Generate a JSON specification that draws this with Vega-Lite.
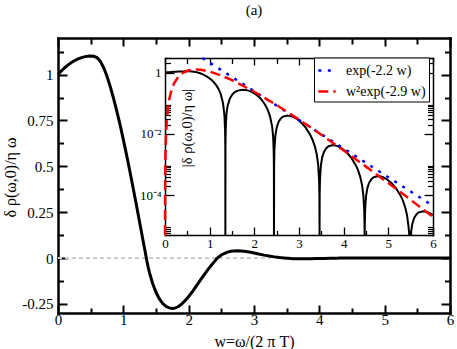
{
  "$schema": "https://vega.github.io/schema/vega-lite/v6.json",
  "width": 392,
  "height": 275,
  "autosize": {"type": "none"},
  "padding": {"left": 58, "top": 38, "right": 7, "bottom": 36},
  "title": {"text": "(a)", "fontSize": 15, "font": "Liberation Serif", "fontWeight": "normal", "color": "black", "offset": 19, "anchor": "middle", "frame": "group"},
  "config": {
    "view": {"stroke": null},
    "font": "Liberation Serif",
    "axis": {"domainColor": "black", "tickColor": "black", "labelColor": "black", "titleColor": "black", "labelFont": "Liberation Serif", "titleFont": "Liberation Serif", "titleFontWeight": "normal", "grid": false, "labelFlush": false, "labelOverlap": false, "labelBound": false, "domainCap": "square"},
    "legend": {"labelFont": "Liberation Serif"}
  },
  "datasets": {
    "zero": [{"w": 0, "v": 0}, {"w": 3.25, "v": 0}],
    "curve": [
      {"w":0,"f":1,"a":1},{"w":0.05,"f":1.02,"a":1.02},{"w":0.1,"f":1.037,"a":1.037},{"w":0.15,"f":1.052,"a":1.052},
      {"w":0.2,"f":1.065,"a":1.065},{"w":0.25,"f":1.076,"a":1.076},{"w":0.3,"f":1.085,"a":1.085},{"w":0.35,"f":1.092,"a":1.092},
      {"w":0.4,"f":1.097,"a":1.097},{"w":0.45,"f":1.101,"a":1.101},{"w":0.5,"f":1.102,"a":1.102},{"w":0.55,"f":1.1,"a":1.1},
      {"w":0.6,"f":1.092,"a":1.092},{"w":0.65,"f":1.071,"a":1.071},{"w":0.7,"f":1.037,"a":1.037},{"w":0.75,"f":0.991,"a":0.991},
      {"w":0.8,"f":0.935,"a":0.935},{"w":0.85,"f":0.871,"a":0.871},{"w":0.9,"f":0.801,"a":0.801},{"w":0.95,"f":0.727,"a":0.727},
      {"w":1,"f":0.646,"a":0.646},{"w":1.05,"f":0.561,"a":0.561},{"w":1.1,"f":0.473,"a":0.473},{"w":1.15,"f":0.382,"a":0.382},
      {"w":1.2,"f":0.289,"a":0.289},{"w":1.25,"f":0.194,"a":0.194},{"w":1.3,"f":0.098,"a":0.098},{"w":1.33,"f":0.042,"a":0.042},
      {"w":1.345,"f":0.0135,"a":0.0135},{"w":1.35,"f":0.0039,"a":0.0039},{"w":1.352,"f":0,"a":1e-8},
      {"w":1.354,"f":-0.0038,"a":0.0038},{"w":1.357,"f":-0.0094,"a":0.0094},{"w":1.365,"f":-0.024,"a":0.024},{"w":1.38,"f":-0.05,"a":0.05},
      {"w":1.4,"f":-0.08,"a":0.08},{"w":1.45,"f":-0.14,"a":0.14},{"w":1.5,"f":-0.187,"a":0.187},{"w":1.55,"f":-0.222,"a":0.222},
      {"w":1.6,"f":-0.247,"a":0.247},{"w":1.65,"f":-0.263,"a":0.263},{"w":1.7,"f":-0.272,"a":0.272},{"w":1.755,"f":-0.275,"a":0.275},
      {"w":1.8,"f":-0.272,"a":0.272},{"w":1.85,"f":-0.263,"a":0.263},{"w":1.9,"f":-0.249,"a":0.249},{"w":1.95,"f":-0.231,"a":0.231},
      {"w":2,"f":-0.21,"a":0.21},{"w":2.05,"f":-0.187,"a":0.187},{"w":2.1,"f":-0.162,"a":0.162},{"w":2.15,"f":-0.136,"a":0.136},
      {"w":2.2,"f":-0.11,"a":0.11},{"w":2.25,"f":-0.085,"a":0.085},{"w":2.3,"f":-0.061,"a":0.061},{"w":2.35,"f":-0.038,"a":0.038},
      {"w":2.4,"f":-0.017,"a":0.017},{"w":2.42,"f":-0.0084,"a":0.0084},{"w":2.433,"f":-0.0029,"a":0.0029},{"w":2.438,"f":-0.00084,"a":0.00084},
      {"w":2.44,"f":0,"a":1e-8},
      {"w":2.4431,"f":0.00093,"a":0.00093},{"w":2.4502,"f":0.00305,"a":0.00305},{"w":2.4706,"f":0.00874,"a":0.00874},{"w":2.5012,"f":0.01624,"a":0.01624},
      {"w":2.542,"f":0.02438,"a":0.02438},{"w":2.593,"f":0.03184,"a":0.03184},{"w":2.644,"f":0.03669,"a":0.03669},{"w":2.746,"f":0.03998,"a":0.03998},
      {"w":2.848,"f":0.03721,"a":0.03721},{"w":2.95,"f":0.03097,"a":0.03097},{"w":3.052,"f":0.02331,"a":0.02331},{"w":3.154,"f":0.0157,"a":0.0157},
      {"w":3.256,"f":0.00903,"a":0.00903},{"w":3.307,"f":0.0062,"a":0.0062},{"w":3.358,"f":0.00376,"a":0.00376},{"w":3.3988,"f":0.002077,"a":0.002077},
      {"w":3.4294,"f":0.000972,"a":0.000972},{"w":3.4498,"f":0.00031,"a":0.00031},{"w":3.4569,"f":0.0000913,"a":0.0000913},{"w":3.46,"f":0,"a":1e-8},
      {"w":3.463,"f":-0.0001,"a":0.0001},{"w":3.4701,"f":-0.000328,"a":0.000328},{"w":3.4903,"f":-0.000939,"a":0.000939},{"w":3.5206,"f":-0.001744,"a":0.001744},
      {"w":3.561,"f":-0.002618,"a":0.002618},{"w":3.6115,"f":-0.00342,"a":0.00342},{"w":3.662,"f":-0.00394,"a":0.00394},{"w":3.763,"f":-0.004296,"a":0.004296},
      {"w":3.864,"f":-0.003996,"a":0.003996},{"w":3.965,"f":-0.003327,"a":0.003327},{"w":4.066,"f":-0.002504,"a":0.002504},{"w":4.167,"f":-0.001687,"a":0.001687},
      {"w":4.268,"f":-0.000969,"a":0.000969},{"w":4.3185,"f":-0.000666,"a":0.000666},{"w":4.369,"f":-0.000404,"a":0.000404},{"w":4.4094,"f":-0.000223,"a":0.000223},
      {"w":4.4397,"f":-0.0001043,"a":0.0001043},{"w":4.4599,"f":-0.0000333,"a":0.0000333},{"w":4.467,"f":-0.0000098,"a":0.0000098},{"w":4.47,"f":0,"a":1e-8},
      {"w":4.473,"f":0.00000977,"a":0.00000977},{"w":4.4801,"f":0.0000321,"a":0.0000321},{"w":4.5003,"f":0.0000917,"a":0.0000917},{"w":4.5306,"f":0.0001704,"a":0.0001704},
      {"w":4.571,"f":0.0002559,"a":0.0002559},{"w":4.6215,"f":0.0003342,"a":0.0003342},{"w":4.672,"f":0.000385,"a":0.000385},{"w":4.773,"f":0.0004197,"a":0.0004197},
      {"w":4.874,"f":0.0003905,"a":0.0003905},{"w":4.975,"f":0.000325,"a":0.000325},{"w":5.076,"f":0.0002446,"a":0.0002446},{"w":5.177,"f":0.0001648,"a":0.0001648},
      {"w":5.278,"f":0.0000947,"a":0.0000947},{"w":5.3285,"f":0.0000651,"a":0.0000651},{"w":5.379,"f":0.0000394,"a":0.0000394},{"w":5.4194,"f":0.0000218,"a":0.0000218},
      {"w":5.4497,"f":0.0000102,"a":0.0000102},{"w":5.4699,"f":0.00000325,"a":0.00000325},{"w":5.48,"f":0,"a":1e-8},
      {"w":5.4901,"f":-0.00000229,"a":0.00000229},{"w":5.5103,"f":-0.00000655,"a":0.00000655},{"w":5.5406,"f":-0.00001218,"a":0.00001218},{"w":5.581,"f":-0.00001828,"a":0.00001828},
      {"w":5.6315,"f":-0.00002388,"a":0.00002388},{"w":5.682,"f":-0.00002752,"a":0.00002752},{"w":5.783,"f":-0.00003,"a":0.00003},{"w":5.884,"f":-0.0000279,"a":0.0000279},
      {"w":5.985,"f":-0.0000232,"a":0.0000232},{"w":6,"f":-0.0000224,"a":0.0000224}
    ],
    "fits": [
      {"w":0.837,"v":3.0,"s":"exp(-2.2 w)"},{"w":1,"v":2.113,"s":"exp(-2.2 w)"},{"w":2,"v":0.2455,"s":"exp(-2.2 w)"},{"w":3,"v":0.02851,"s":"exp(-2.2 w)"},
      {"w":4,"v":0.003311,"s":"exp(-2.2 w)"},{"w":5,"v":0.0003846,"s":"exp(-2.2 w)"},{"w":6,"v":0.00004467,"s":"exp(-2.2 w)"},
      {"w":0,"v":1e-8,"s":"w²exp(-2.9 w)"},{"w":0.0005,"v":0.0000049,"s":"w²exp(-2.9 w)"},{"w":0.001,"v":0.00001955,"s":"w²exp(-2.9 w)"},
      {"w":0.002,"v":0.000078,"s":"w²exp(-2.9 w)"},{"w":0.005,"v":0.000483,"s":"w²exp(-2.9 w)"},{"w":0.01,"v":0.001905,"s":"w²exp(-2.9 w)"},
      {"w":0.02,"v":0.0074,"s":"w²exp(-2.9 w)"},{"w":0.04,"v":0.0279,"s":"w²exp(-2.9 w)"},{"w":0.07,"v":0.0783,"s":"w²exp(-2.9 w)"},
      {"w":0.1,"v":0.1466,"s":"w²exp(-2.9 w)"},{"w":0.15,"v":0.285,"s":"w²exp(-2.9 w)"},{"w":0.2,"v":0.439,"s":"w²exp(-2.9 w)"},
      {"w":0.3,"v":0.739,"s":"w²exp(-2.9 w)"},{"w":0.4,"v":0.983,"s":"w²exp(-2.9 w)"},{"w":0.5,"v":1.15,"s":"w²exp(-2.9 w)"},
      {"w":0.6,"v":1.239,"s":"w²exp(-2.9 w)"},{"w":0.7,"v":1.261,"s":"w²exp(-2.9 w)"},{"w":0.8,"v":1.233,"s":"w²exp(-2.9 w)"},
      {"w":1,"v":1.079,"s":"w²exp(-2.9 w)"},{"w":1.25,"v":0.816,"s":"w²exp(-2.9 w)"},{"w":1.5,"v":0.569,"s":"w²exp(-2.9 w)"},
      {"w":2,"v":0.2374,"s":"w²exp(-2.9 w)"},{"w":2.5,"v":0.0871,"s":"w²exp(-2.9 w)"},{"w":3,"v":0.0294,"s":"w²exp(-2.9 w)"},
      {"w":3.5,"v":0.00939,"s":"w²exp(-2.9 w)"},{"w":4,"v":0.002876,"s":"w²exp(-2.9 w)"},{"w":4.5,"v":0.000854,"s":"w²exp(-2.9 w)"},
      {"w":5,"v":0.0002473,"s":"w²exp(-2.9 w)"},{"w":5.5,"v":0.0000702,"s":"w²exp(-2.9 w)"},{"w":6,"v":0.0000196,"s":"w²exp(-2.9 w)"}
    ]
  },
  "layer": [
    {
      "layer": [
        {
          "data": {"name": "zero"},
          "mark": {"type": "line", "color": "#cccccc", "strokeWidth": 2, "strokeDash": [4, 3]},
          "encoding": {
            "x": {"field": "w", "type": "quantitative", "scale": {"domain": [0, 6], "nice": false, "zero": false},
              "axis": {"orient": "bottom", "values": [0, 1, 2, 3, 4, 5, 6], "format": "d", "tickSize": -8, "tickWidth": 2, "domainWidth": 2.5, "labelPadding": 7, "labelFontSize": 15, "labelFont": "Liberation Serif",
                "title": "w=ω/(2 π T)", "titleFont": "Liberation Serif", "titleFontSize": 16, "titleX": 196, "titleY": 28.5, "titleBaseline": "middle", "titleAlign": "center"}},
            "y": {"field": "v", "type": "quantitative", "scale": {"domain": [-0.3, 1.2], "nice": false, "zero": false},
              "axis": {"orient": "left", "values": [-0.25, 0, 0.25, 0.5, 0.75, 1], "labelExpr": "toString(datum.value)", "tickSize": -9, "tickWidth": 2, "domainWidth": 2.5, "labelPadding": 14, "labelFontSize": 15, "labelFont": "Liberation Serif",
                "title": "δ ρ(ω,0)/η ω", "titleFont": "Liberation Serif", "titleFontSize": 16, "titleX": -48, "titleY": 139, "titleAngle": 270, "titleBaseline": "middle", "titleAlign": "center"}}
          }
        },
        {
          "data": {"name": "curve"},
          "mark": {"type": "line", "color": "black", "strokeWidth": 3},
          "encoding": {
            "x": {"field": "w", "type": "quantitative", "scale": {"domain": [0, 6], "nice": false, "zero": false},
              "axis": {"orient": "top", "values": [0, 1, 2, 3, 4, 5, 6], "labels": false, "tickSize": -8, "tickWidth": 2, "domainWidth": 2.5, "title": null}},
            "y": {"field": "f", "type": "quantitative", "scale": {"domain": [-0.3, 1.2], "nice": false, "zero": false},
              "axis": {"orient": "right", "values": [-0.25, 0, 0.25, 0.5, 0.75, 1], "labels": false, "tickSize": -9, "tickWidth": 2, "domainWidth": 2.5, "title": null}}
          }
        },
        {
          "data": {"name": "zero"},
          "mark": {"type": "line", "opacity": 0},
          "encoding": {
            "x": {"field": "w", "type": "quantitative", "scale": {"domain": [0, 6], "nice": false, "zero": false},
              "axis": {"orient": "bottom", "values": [0.5, 1.5, 2.5, 3.5, 4.5, 5.5], "labels": false, "domain": false, "tickSize": -5, "tickWidth": 2, "title": null}},
            "y": {"field": "v", "type": "quantitative", "scale": {"domain": [-0.3, 1.2], "nice": false, "zero": false},
              "axis": {"orient": "left", "values": [-0.125, 0.125, 0.375, 0.625, 0.875, 1.125], "labels": false, "domain": false, "tickSize": -5.5, "tickWidth": 2, "title": null}}
          }
        },
        {
          "data": {"name": "zero"},
          "mark": {"type": "line", "opacity": 0},
          "encoding": {
            "x": {"field": "w", "type": "quantitative", "scale": {"domain": [0, 6], "nice": false, "zero": false},
              "axis": {"orient": "top", "values": [0.5, 1.5, 2.5, 3.5, 4.5, 5.5], "labels": false, "domain": false, "tickSize": -6, "tickWidth": 2, "title": null}},
            "y": {"field": "v", "type": "quantitative", "scale": {"domain": [-0.3, 1.2], "nice": false, "zero": false},
              "axis": {"orient": "right", "values": [-0.125, 0.125, 0.375, 0.625, 0.875, 1.125], "labels": false, "domain": false, "tickSize": -5.5, "tickWidth": 2, "title": null}}
          }
        }
      ],
      "resolve": {"axis": {"x": "independent", "y": "independent"}}
    },
    {
      "layer": [
        {
          "data": {"name": "curve"},
          "mark": {"type": "line", "color": "black", "strokeWidth": 2},
          "encoding": {
            "x": {"field": "w", "type": "quantitative", "scale": {"domain": [0, 6], "range": [107, 375], "nice": false, "zero": false},
              "axis": {"orient": "bottom", "offset": -78, "values": [0, 1, 2, 3, 4, 5, 6], "format": "d", "tickSize": -8, "tickWidth": 1.3, "domainWidth": 1.5, "labelPadding": 10.5, "labelFontSize": 13, "labelFont": "Liberation Serif", "title": null}},
            "y": {"field": "a", "type": "quantitative", "scale": {"type": "log", "domain": [0.000005, 3], "range": [197, 20], "clamp": true, "nice": false},
              "axis": {"orient": "left", "offset": -107, "values": [1, 0.01, 0.0001], "labelExpr": "datum.value >= 0.5 ? '1' : (datum.value >= 0.005 ? '10⁻²' : '10⁻⁴')", "tickSize": -9, "tickWidth": 1.3, "domainWidth": 1.5, "labelPadding": 13, "labelFontSize": 13, "labelFont": "Liberation Serif",
                "title": "|δ ρ(ω,0)/η ω|", "titleFont": "Liberation Serif", "titleFontSize": 14.5, "titleX": 22, "titleY": 89.5, "titleAngle": 270, "titleBaseline": "middle", "titleAlign": "center"}}
          }
        },
        {
          "data": {"name": "fits"},
          "mark": {"type": "line", "strokeWidth": 2.5},
          "encoding": {
            "x": {"field": "w", "type": "quantitative", "scale": {"domain": [0, 6], "range": [107, 375], "nice": false, "zero": false},
              "axis": {"orient": "top", "offset": -20, "values": [0, 1, 2, 3, 4, 5, 6], "labels": false, "tickSize": -7, "tickWidth": 1.3, "domainWidth": 1.5, "title": null}},
            "y": {"field": "v", "type": "quantitative", "scale": {"type": "log", "domain": [0.000005, 3], "range": [197, 20], "clamp": true, "nice": false},
              "axis": {"orient": "right", "offset": -17, "values": [1, 0.01, 0.0001], "labels": false, "tickSize": -9, "tickWidth": 1.3, "domainWidth": 1.5, "title": null}},
            "color": {"field": "s", "type": "nominal", "scale": {"domain": ["exp(-2.2 w)", "w²exp(-2.9 w)"], "range": ["#0000ff", "#ff0000"]},
              "legend": {"orient": "none", "legendX": 256, "legendY": 19.5, "title": null, "fillColor": "white", "strokeColor": "black", "padding": 3, "labelFont": "Liberation Serif", "labelFontSize": 14, "labelColor": "black", "symbolType": "stroke", "symbolSize": 300, "symbolStrokeWidth": 2.5, "labelOffset": 9, "rowPadding": 4, "labelLimit": 300}},
            "strokeDash": {"field": "s", "type": "nominal", "scale": {"domain": ["exp(-2.2 w)", "w²exp(-2.9 w)"], "range": [[3, 6.5], [10, 5]]}}
          }
        },
        {
          "data": {"name": "fits"},
          "mark": {"type": "line", "opacity": 0},
          "encoding": {
            "x": {"field": "w", "type": "quantitative", "scale": {"domain": [0, 6], "range": [107, 375], "nice": false, "zero": false},
              "axis": {"orient": "bottom", "offset": -78, "values": [0.5, 1.5, 2.5, 3.5, 4.5, 5.5], "labels": false, "domain": false, "tickSize": -4.5, "tickWidth": 1.3, "title": null}},
            "y": {"field": "v", "type": "quantitative", "scale": {"type": "log", "domain": [0.000005, 3], "range": [197, 20], "clamp": true, "nice": false},
              "axis": {"orient": "left", "offset": -107, "values": [3, 2, 0.09, 0.08, 0.07, 0.06, 0.05, 0.04, 0.03, 0.02, 0.0009, 0.0008, 0.0007, 0.0006, 0.0005, 0.0004, 0.0003, 0.0002, 0.000009, 0.000008, 0.000007, 0.000006, 0.000005], "labels": false, "domain": false, "tickSize": -5.5, "tickWidth": 1.2, "title": null}}
          }
        },
        {
          "data": {"name": "fits"},
          "mark": {"type": "line", "opacity": 0},
          "encoding": {
            "x": {"field": "w", "type": "quantitative", "scale": {"domain": [0, 6], "range": [107, 375], "nice": false, "zero": false},
              "axis": {"orient": "top", "offset": -20, "values": [0.5, 1.5, 2.5, 3.5, 4.5, 5.5], "labels": false, "domain": false, "tickSize": -5.5, "tickWidth": 1.3, "title": null}},
            "y": {"field": "v", "type": "quantitative", "scale": {"type": "log", "domain": [0.000005, 3], "range": [197, 20], "clamp": true, "nice": false},
              "axis": {"orient": "right", "offset": -17, "values": [3, 2, 0.09, 0.08, 0.07, 0.06, 0.05, 0.04, 0.03, 0.02, 0.0009, 0.0008, 0.0007, 0.0006, 0.0005, 0.0004, 0.0003, 0.0002, 0.000009, 0.000008, 0.000007, 0.000006, 0.000005], "labels": false, "domain": false, "tickSize": -5.5, "tickWidth": 1.2, "title": null}}
          }
        }
      ],
      "resolve": {"axis": {"x": "independent", "y": "independent"}}
    }
  ],
  "resolve": {"scale": {"x": "independent", "y": "independent"}}
}
